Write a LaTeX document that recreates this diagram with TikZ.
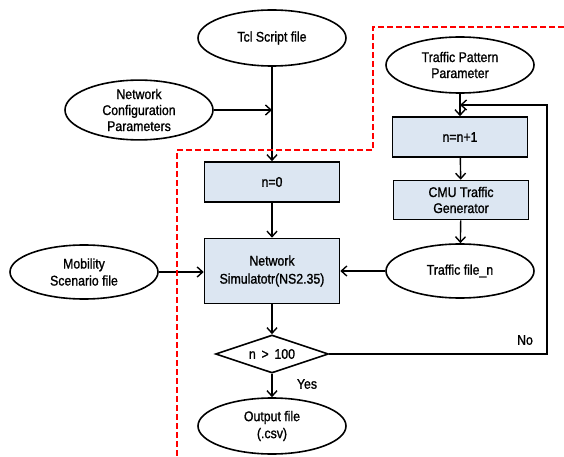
\documentclass[tikz,border=0pt]{standalone}
\usepackage{fontspec}
\setmainfont{Liberation Sans}[FakeStretch=0.88, FakeBold=1.2]
\usetikzlibrary{shapes.geometric,arrows.meta}
\definecolor{boxfill}{HTML}{DCE6F2}
\begin{document}
\begin{tikzpicture}[x=1pt,y=-1pt, font=\fontsize{14}{16}\selectfont,
 ell/.style={draw, ellipse, line width=1.6pt, minimum width=148pt, minimum height=56pt, inner sep=0pt, align=center},
 box/.style={draw, rectangle, fill=boxfill, line width=1.6pt, minimum width=135pt, inner sep=0pt, align=center},
 arr/.style={-{Straight Barb[length=5.5pt,width=10pt]}, line width=1.4pt},
 reddash/.style={draw=red, line width=1.6pt, dash pattern=on 6pt off 3pt}
]
\useasboundingbox (0,0) rectangle (564,457);
\node[ell] (tcl) at (272,38) {Tcl Script file};
\node[ell] (ncp) at (139,110) {Network\\Configuration\\Parameters};
\node[ell] (tpp) at (460,65) {Traffic Pattern\\Parameter};
\node[box, minimum height=40pt] (n0) at (272,182) {n=0};
\node[box, minimum height=40pt] (nn) at (460,137) {n=n+1};
\node[box, minimum height=39pt] (cmu) at (461,200) {CMU Traffic\\Generator};
\node[ell, minimum height=54pt] (tf) at (460,271) {Traffic file\_n};
\node[box, minimum height=65pt, font=\fontsize{14}{18}\selectfont] (ns) at (272,271) {Network\\Simulatotr(NS2.35)};
\node[ell, minimum height=54pt, font=\fontsize{14}{17}\selectfont] (mob) at (84,272) {Mobility\\Scenario file};
\node[draw, diamond, aspect=3, minimum width=113pt, minimum height=38pt, inner sep=0pt, line width=1.6pt] (dia) at (272,354) {n \,>\, 100};
\node[ell, font=\fontsize{14}{17}\selectfont] (out) at (272,426) {Output file\\(.csv)};
\node (no) at (525,340) {No};
\node (yes) at (307,384) {Yes};

\coordinate (j1) at (tcl.south |- ncp.east);
\coordinate (c1) at (547,354);
\coordinate (c2) at (547,105);
\coordinate (j2) at (tpp.south |- c2);

\draw[arr] (tcl.south) -- (n0.north);
\draw[arr] (ncp.east) -- (j1);
\draw[arr] (tpp.south) -- (nn.north);
\draw[arr] (nn) -- (cmu);
\draw[arr] (cmu) -- (tf);
\draw[arr] (n0) -- (ns);
\draw[arr] (tf.west) -- (tf.west -| ns.east);
\draw[arr] (mob.east) -- (mob.east -| ns.west);
\draw[arr] (ns) -- (dia);
\draw[arr] (dia) -- (out);
\draw[arr] (dia.east) -- (c1) -- (c2) -- (j2);

\draw[reddash] (564,27) -- (373,27) -- (373,150) -- (177,150) -- (177,457);
\end{tikzpicture}
\end{document}
